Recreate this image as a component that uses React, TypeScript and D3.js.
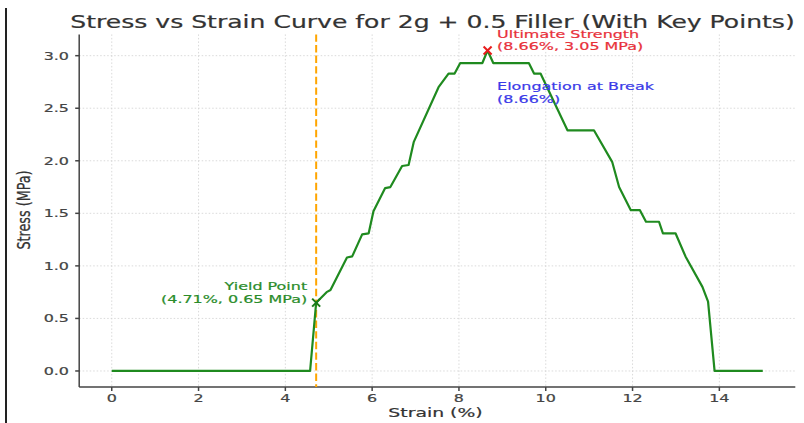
import React from "react";
import * as d3 from "d3";

const strain = [0, 4.57, 4.71, 4.95, 5.04, 5.42, 5.54, 5.77, 5.92, 6.03, 6.3, 6.42, 6.69, 6.84, 6.96, 7.53, 7.76, 7.9, 8.03, 8.54, 8.66, 8.79, 9.61, 9.73, 9.88, 10.5, 11.11, 11.53, 11.69, 11.96, 12.17, 12.31, 12.61, 12.7, 12.99, 13.22, 13.61, 13.74, 13.89, 15];
const stress = [0, 0, 0.65, 0.75, 0.77, 1.08, 1.09, 1.3, 1.31, 1.52, 1.74, 1.75, 1.95, 1.96, 2.18, 2.7, 2.83, 2.83, 2.93, 2.93, 3.05, 2.93, 2.93, 2.83, 2.83, 2.29, 2.29, 1.99, 1.75, 1.53, 1.53, 1.42, 1.42, 1.31, 1.31, 1.09, 0.8, 0.66, 0, 0];
const xTicks = [0, 2, 4, 6, 8, 10, 12, 14];
const yTicks = [0, 0.5, 1, 1.5, 2, 2.5, 3];
const yieldPoint = { strain: 4.71, stress: 0.65 };
const ultimatePoint = { strain: 8.66, stress: 3.05 };
const elongationAtBreak = 8.66;
const elongationLabelStress = 2.55;

const W = 804;
const H = 423;
const SX = 1.45;
const FONT = "DejaVu Sans, sans-serif";

export default function App() {
  const x = d3.scaleLinear().domain([-0.75, 15.75]).range([79.2, 795.3]);
  const y = d3.scaleLinear().domain([-0.1525, 3.2025]).range([387, 34.4]);
  const data = strain.map((s, i) => [s, stress[i]] as [number, number]);
  const line = d3.line<[number, number]>().x((d) => x(d[0])).y((d) => y(d[1]));
  const left = x.range()[0];
  const right = x.range()[1];
  const bottom = y.range()[0];
  const top = y.range()[1];

  const T = (
    px: number,
    py: number,
    txt: string,
    opts: { size: number; color: string; anchor?: string; rotate?: boolean }
  ) => (
    <text
      transform={`translate(${px},${py}) scale(${SX},1)${opts.rotate ? " rotate(-90)" : ""}`}
      fontFamily={FONT}
      fontSize={opts.size}
      fill={opts.color}
      stroke={opts.color}
      strokeWidth={0.2}
      textAnchor={opts.anchor || "start"}
    >
      {txt}
    </text>
  );

  const cross = (cx: number, cy: number, color: string) => (
    <g stroke={color} strokeWidth={2}>
      <line x1={cx - 4} y1={cy - 4} x2={cx + 4} y2={cy + 4} />
      <line x1={cx - 4} y1={cy + 4} x2={cx + 4} y2={cy - 4} />
    </g>
  );

  const yx = x(yieldPoint.strain);
  const yy = y(yieldPoint.stress);
  const ux = x(ultimatePoint.strain);
  const uy = y(ultimatePoint.stress);
  const ex = x(elongationAtBreak);
  const ey = y(elongationLabelStress);

  return (
    <svg
      width={W}
      height={H}
      style={{ position: "fixed", left: 0, top: 0, background: "#fff" }}
    >
      <rect x={0} y={0} width={W} height={H} fill="#fff" />
      <line x1={6} y1={8} x2={6} y2={H} stroke="#222" strokeWidth={2} />
      {/* grid */}
      <g stroke="#d0d0d0" strokeWidth={0.8} strokeDasharray="1.5,2">
        {xTicks.map((t) => (
          <line key={"gx" + t} x1={x(t)} x2={x(t)} y1={top} y2={bottom} />
        ))}
        {yTicks.map((t) => (
          <line key={"gy" + t} x1={left} x2={right} y1={y(t)} y2={y(t)} />
        ))}
      </g>
      {/* axes */}
      <g stroke="#444" strokeWidth={1.5}>
        <line x1={left} x2={left} y1={top} y2={bottom} />
        <line x1={left} x2={right} y1={bottom} y2={bottom} />
        {xTicks.map((t) => (
          <line key={"tx" + t} x1={x(t)} x2={x(t)} y1={bottom} y2={bottom + 4} />
        ))}
        {yTicks.map((t) => (
          <line key={"ty" + t} x1={left - 4} x2={left} y1={y(t)} y2={y(t)} />
        ))}
      </g>
      {xTicks.map((t) => (
        <g key={"lx" + t}>{T(x(t), 401.5, d3.format("d")(t), { size: 11, color: "#444", anchor: "middle" })}</g>
      ))}
      {yTicks.map((t) => (
        <g key={"ly" + t}>{T(69, y(t) + 4, d3.format(".1f")(t), { size: 11, color: "#444", anchor: "end" })}</g>
      ))}
      {/* yield line */}
      <line
        x1={yx}
        x2={yx}
        y1={top}
        y2={bottom}
        stroke="#FFA500"
        strokeWidth={2}
        strokeDasharray="7.4,3.2"
      />
      {/* curve */}
      <path d={line(data) || ""} fill="none" stroke="#1f8a1f" strokeWidth={2.2} strokeLinejoin="round" />
      {cross(yx, yy, "#1a7a1a")}
      {cross(ux, uy, "#e81c1c")}
      {/* annotations */}
      {T(yx - 9, yy - 13, "Yield Point", { size: 11, color: "#2a8c2a", anchor: "end" })}
      {T(yx - 9, yy, "(4.71%, 0.65 MPa)", { size: 11, color: "#2a8c2a", anchor: "end" })}
      {T(ux + 9.5, uy - 12.5, "Ultimate Strength", { size: 11, color: "#e8303a" })}
      {T(ux + 9.5, uy, "(8.66%, 3.05 MPa)", { size: 11, color: "#e8303a" })}
      {T(ex + 9.5, ey - 12.5, "Elongation at Break", { size: 11, color: "#3a3ae8" })}
      {T(ex + 9.5, ey, "(8.66%)", { size: 11, color: "#3a3ae8" })}
      {/* labels */}
      {T(432.5, 28, "Stress vs Strain Curve for 2g + 0.5 Filler (With Key Points)", { size: 17.3, color: "#333", anchor: "middle" })}
      {T(435.5, 417, "Strain (%)", { size: 13, color: "#333", anchor: "middle" })}
      {T(29.5, 210, "Stress (MPa)", { size: 12.75, color: "#333", anchor: "middle", rotate: true })}
    </svg>
  );
}
